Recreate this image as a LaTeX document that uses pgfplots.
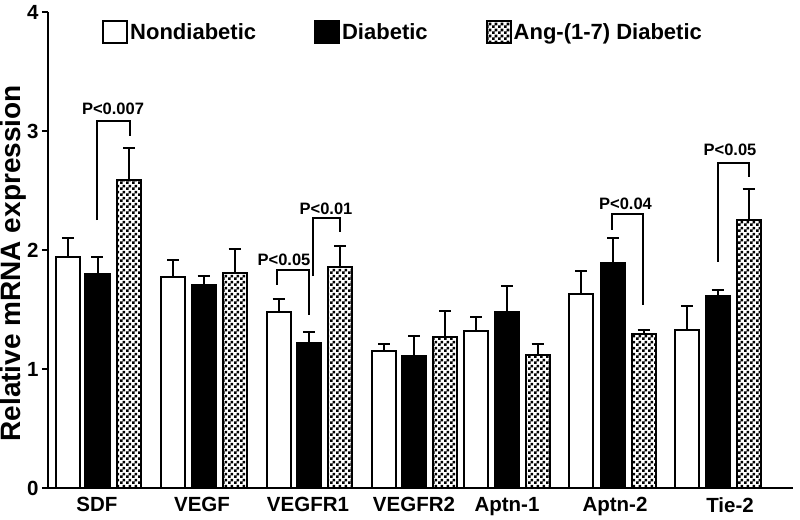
\documentclass[border=0pt]{standalone}
\usepackage{fontspec}
\setmainfont{Liberation Sans}
\usepackage{pgfplots}
\pgfplotsset{compat=1.18}
\usetikzlibrary{patterns}
\pgfdeclarepatternformonly{mycheck}{\pgfqpoint{0pt}{0pt}}{\pgfqpoint{6pt}{6pt}}{\pgfqpoint{6pt}{6pt}}{%
 \pgfpathrectangle{\pgfqpoint{0pt}{0pt}}{\pgfqpoint{3pt}{3pt}}%
 \pgfpathrectangle{\pgfqpoint{3pt}{3pt}}{\pgfqpoint{3pt}{3pt}}%
 \pgfusepath{fill}}

\pgfplotstableread{
x y e
68 1.94 0.16
173 1.77 0.15
278.5 1.48 0.11
384 1.15 0.06
476 1.32 0.12
581 1.63 0.19
687 1.33 0.20
}\nondiab
\pgfplotstableread{
x y e
97.5 1.80 0.14
203.5 1.71 0.07
309 1.22 0.09
414 1.11 0.17
507 1.48 0.22
613 1.89 0.21
717.5 1.61 0.05
}\diab
\pgfplotstableread{
x y e
129 2.59 0.27
234.5 1.81 0.20
340 1.86 0.17
445 1.27 0.22
537.5 1.12 0.09
643.5 1.29 0.04
748.5 2.25 0.26
}\angdiab

\begin{document}
\begin{tikzpicture}
\begin{axis}[name=ax, scale only axis, width=745pt, height=476pt,
 xmin=48, xmax=793, ymin=0, ymax=4,
 axis x line*=bottom, axis y line*=left,
 axis line style={line width=2.2pt},
 ytick={0,1,2,3,4}, tick align=outside, major tick length=6pt,
 ytick style={line width=2pt, black},
 xtick={97,202,308,414,507,615,730},
 xticklabels={SDF,VEGF,VEGFR1,VEGFR2,Aptn-1,Aptn-2,Tie-2},
 xtick style={draw=none},
 /pgf/number format/assume math mode=true,
 ticklabel style={font=\fontsize{20.5}{20.5}\selectfont\bfseries},
 ylabel={Relative mRNA expression},
 ylabel style={font=\fontsize{28}{28}\selectfont\bfseries, at={(axis description cs:-0.046,0.472)}, anchor=center},
 ybar, bar width=24, bar shift=0pt,
 error bars/y dir=plus, error bars/y explicit,
 error bars/error bar style={line width=2pt, black},
 error bars/error mark options={rotate=90, mark size=6pt, line width=2pt, black},
 legend columns=3,
 legend style={at={(axis cs:99,3.83)}, anchor=west, draw=none, fill=none,
   font=\fontsize{22}{22}\selectfont\bfseries,
   /tikz/every even column/.append style={column sep=56pt}},
 legend image code/.code={\draw[#1] (0pt,-11pt) rectangle (24pt,11pt);},
 clip=false]
\addplot[draw=black, fill=white, line width=2pt] table[x=x,y=y,y error=e]{\nondiab};
\addlegendentry{Nondiabetic}
\addplot[draw=black, fill=black, line width=2pt] table[x=x,y=y,y error=e]{\diab};
\addlegendentry{Diabetic}
\addplot[draw=black, pattern=mycheck, pattern color=black, line width=2pt] table[x=x,y=y,y error=e]{\angdiab};
\addlegendentry{Ang-(1-7) Diabetic}

\draw[line width=2pt] (axis cs:97,2.25) -- (axis cs:97,3.08) -- (axis cs:130,3.08) -- (axis cs:130,2.96);
\node[font=\fontsize{16.5}{16.5}\selectfont\bfseries] at (axis cs:113,3.19) {P<0.007};
\draw[line width=2pt] (axis cs:277,1.71) -- (axis cs:277,1.83) -- (axis cs:309,1.83) -- (axis cs:309,1.45);
\node[font=\fontsize{16.5}{16.5}\selectfont\bfseries] at (axis cs:284,1.92) {P<0.05};
\draw[line width=2pt] (axis cs:313,1.78) -- (axis cs:313,2.27) -- (axis cs:340,2.27) -- (axis cs:340,2.15);
\node[font=\fontsize{16.5}{16.5}\selectfont\bfseries] at (axis cs:326,2.35) {P<0.01};
\draw[line width=2pt] (axis cs:612,2.17) -- (axis cs:612,2.30) -- (axis cs:643,2.30) -- (axis cs:643,1.54);
\node[font=\fontsize{16.5}{16.5}\selectfont\bfseries] at (axis cs:625.5,2.39) {P<0.04};
\draw[line width=2pt] (axis cs:718,1.90) -- (axis cs:718,2.73) -- (axis cs:749,2.73) -- (axis cs:749,2.61);
\node[font=\fontsize{16.5}{16.5}\selectfont\bfseries] at (axis cs:730,2.84) {P<0.05};
\end{axis}
\pgfresetboundingbox
\path ([shift={(-48pt,-32pt)}]ax.south west) rectangle ([shift={(7pt,12pt)}]ax.north east);
\end{tikzpicture}
\end{document}
